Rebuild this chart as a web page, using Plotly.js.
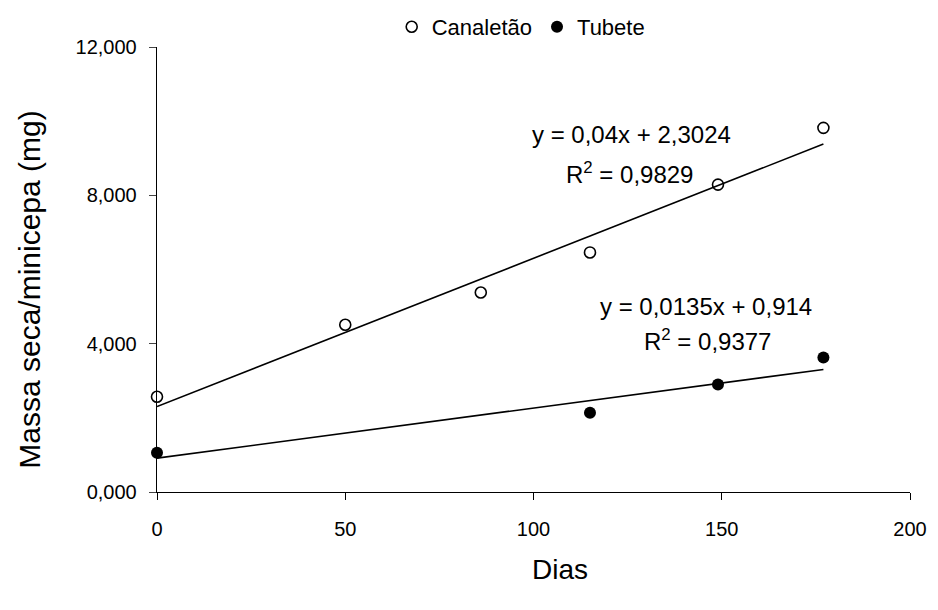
<!DOCTYPE html>
<html>
<head>
<meta charset="utf-8">
<script src="https://cdn.plot.ly/plotly-3.0.1.min.js"></script>
<style>html,body{margin:0;padding:0;background:#fff;}#chart{width:938px;height:610px;}</style>
</head>
<body>
<div id="chart"></div>
<script>
const canaletaoX = [0, 50, 86, 115, 149, 177];
const canaletaoY = [2.57, 4.51, 5.38, 6.46, 8.29, 9.82];
const tubeteX = [0, 115, 149, 177];
const tubeteY = [1.06, 2.14, 2.90, 3.63];
const canaletaoFit = {slope: 0.04, intercept: 2.3024};
const tubeteFit = {slope: 0.0135, intercept: 0.914};
const yTickVals = [0, 4, 8, 12];
const yTickText = ["0,000", "4,000", "8,000", "12,000"];
const xTickVals = [0, 50, 100, 150, 200];

function fitLine(xs, fit) {
  const x0 = Math.min(...xs), x1 = Math.max(...xs);
  return {x: [x0, x1], y: [fit.intercept + fit.slope * x0, fit.intercept + fit.slope * x1]};
}
const cl = fitLine(canaletaoX, canaletaoFit);
const tl = fitLine(tubeteX, tubeteFit);

const font = {family: "Liberation Sans, Arial, sans-serif", color: "#000"};
const annFont = Object.assign({size: 24}, font);

const data = [
  {x: cl.x, y: cl.y, mode: "lines", line: {color: "#000", width: 1.6}, showlegend: false, hoverinfo: "skip"},
  {x: tl.x, y: tl.y, mode: "lines", line: {color: "#000", width: 1.6}, showlegend: false, hoverinfo: "skip"},
  {x: canaletaoX, y: canaletaoY, name: "Canaletão", mode: "markers", type: "scatter",
   marker: {symbol: "circle-open", size: 11, color: "#000", line: {width: 1.6, color: "#000"}}, cliponaxis: false},
  {x: tubeteX, y: tubeteY, name: "Tubete", mode: "markers", type: "scatter",
   marker: {symbol: "circle", size: 12, color: "#000"}, cliponaxis: false}
];

const layout = {
  width: 938, height: 610,
  margin: {l: 157, r: 28, t: 47, b: 117.5, autoexpand: false},
  paper_bgcolor: "#fff", plot_bgcolor: "#fff",
  font: Object.assign({size: 20}, font),
  showlegend: true,
  legend: {orientation: "h", x: 0.483, xanchor: "center", yref: "container", y: 1 - 27 / 610, yanchor: "middle",
           font: Object.assign({size: 22}, font), itemwidth: 30, tracegroupgap: 0},
  xaxis: {range: [0, 200], tickvals: xTickVals, ticks: "outside", ticklen: 7, tickcolor: "#000",
          showline: true, linecolor: "#000", linewidth: 1.3, showgrid: false, zeroline: false,
          tickfont: Object.assign({size: 20}, font), ticklabelstandoff: 12},
  yaxis: {range: [0, 12], tickvals: yTickVals, ticktext: yTickText, ticks: "outside", ticklen: 7, tickcolor: "#444",
          showline: true, linecolor: "#000", linewidth: 1.3, showgrid: false, zeroline: false,
          tickfont: Object.assign({size: 20}, font), ticklabelstandoff: 8},
  annotations: [
    {x: 125.9, y: 9.64, xref: "x", yref: "y", text: "y = 0,04x + 2,3024", showarrow: false, font: annFont},
    {x: 125.6, y: 8.61, xref: "x", yref: "y", text: "R<sup>2</sup> = 0,9829", showarrow: false, font: annFont},
    {x: 145.8, y: 5.0, xref: "x", yref: "y", text: "y = 0,0135x + 0,914", showarrow: false, font: annFont},
    {x: 146.1, y: 4.11, xref: "x", yref: "y", text: "R<sup>2</sup> = 0,9377", showarrow: false, font: annFont},
    {xref: "paper", yref: "paper", x: (30 - 157) / 753, y: (492.5 - 290) / 445.5, text: "Massa seca/minicepa (mg)",
     textangle: -90, showarrow: false, xanchor: "center", yanchor: "middle", font: Object.assign({size: 30}, font)},
    {xref: "paper", yref: "paper", x: (560 - 157) / 753, y: (492.5 - 570) / 445.5, text: "Dias",
     showarrow: false, xanchor: "center", yanchor: "middle", font: Object.assign({size: 28}, font)}
  ]
};

Plotly.newPlot("chart", data, layout, {displayModeBar: false, staticPlot: true});
</script>
</body>
</html>
